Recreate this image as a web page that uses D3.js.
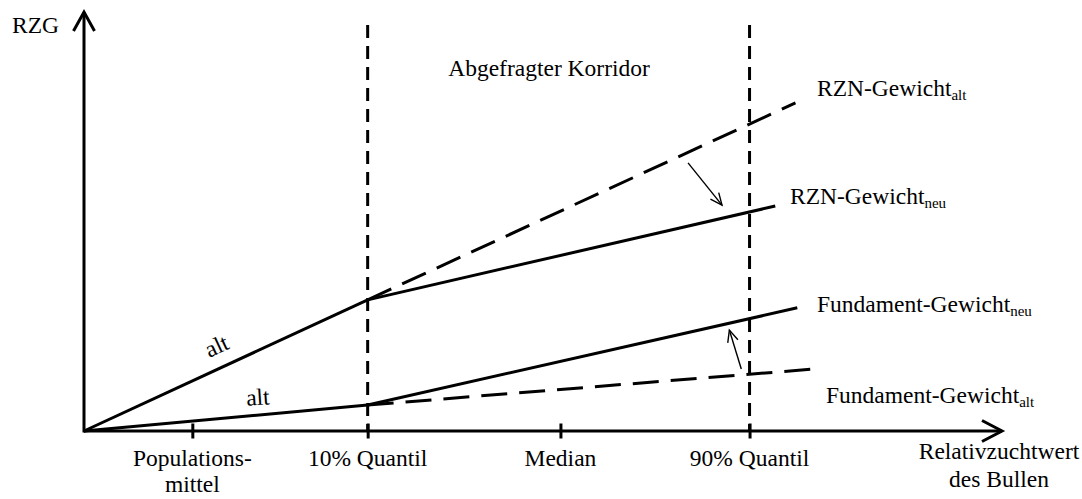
<!DOCTYPE html>
<html><head><meta charset="utf-8">
<script src="https://d3js.org/d3.v7.min.js"></script>
<style>body{margin:0;background:#fff}svg{display:block}</style>
</head><body><svg id="c" width="1082" height="499" font-family="'Liberation Serif', 'DejaVu Serif', 'Times New Roman', serif"></svg>
<script>
// ---- data (schematic units: x and y in 0..100) ----
const tickValues = [11.8, 30.9, 51.9, 72.5];
const tickLabels = [["Populations-", "mittel"], ["10% Quantil"], ["Median"], ["90% Quantil"]];
const corridor = [30.9, 72.5];
const corridorTop = 96.9;
const rznAltSolid = [[0, 0], [30.9, 31.3]];
const rznAltDashed = [[30.9, 31.3], [77.5, 78.3]];
const rznNeu = [[30.9, 31.3], [75.3, 53.7]];
const fundAltSolid = [[0, 0], [30.9, 6.2]];
const fundAltDashed = [[30.9, 6.2], [79.6, 14.8]];
const fundNeu = [[30.9, 6.2], [77.7, 29.4]];
const arrowRzn = [[65.8, 64.0], [69.5, 53.9]];
const arrowFund = [[71.6, 14.8], [70.3, 24.1]];
const seriesLabels = [
  {main: "RZN-Gewicht", sub: "alt", x: 817, y: 96},
  {main: "RZN-Gewicht", sub: "neu", x: 790, y: 204},
  {main: "Fundament-Gewicht", sub: "neu", x: 817, y: 312},
  {main: "Fundament-Gewicht", sub: "alt", x: 826, y: 403}
];

const FS = 23.5, SUB = 15;
const svg = d3.select("#c");
const x = d3.scaleLinear().domain([0, 100]).range([84, 1002]);
const y = d3.scaleLinear().domain([0, 100]).range([431, 12]);
const line = d3.line().x(d => x(d[0])).y(d => y(d[1]));

// corridor dashed verticals
svg.selectAll(".corr").data(corridor).join("line")
  .attr("x1", d => x(d)).attr("x2", d => x(d))
  .attr("y1", y(corridorTop)).attr("y2", y(0))
  .attr("stroke", "#000").attr("stroke-width", 3).attr("stroke-dasharray", "13,8");

// x axis with ticks
const xAxis = d3.axisBottom(x).tickValues(tickValues).tickSize(15).tickFormat("");
const gx = svg.append("g").attr("transform", `translate(0,${y(0) - 7.5})`).call(xAxis);
gx.select(".domain").remove();
gx.selectAll(".tick line").attr("stroke", "#000").attr("stroke-width", 3);

// axes
svg.append("line").attr("x1", x(0)).attr("x2", x(100)).attr("y1", y(0)).attr("y2", y(0))
  .attr("stroke", "#000").attr("stroke-width", 3);
svg.append("line").attr("x1", x(0)).attr("x2", x(0)).attr("y1", y(0) + 1.5).attr("y2", y(100))
  .attr("stroke", "#000").attr("stroke-width", 3);
// arrowheads
svg.append("path").attr("d", `M${x(100) - 20},${y(0) - 10.5}L${x(100)},${y(0)}L${x(100) - 20},${y(0) + 10.5}`)
  .attr("fill", "none").attr("stroke", "#000").attr("stroke-width", 3);
svg.append("path").attr("d", `M${x(0) - 10.5},${y(100) + 19}L${x(0)},${y(100)}L${x(0) + 10.5},${y(100) + 19}`)
  .attr("fill", "none").attr("stroke", "#000").attr("stroke-width", 3);

// lines
const solid = [rznAltSolid, rznNeu, fundAltSolid, fundNeu];
const dashed = [rznAltDashed, fundAltDashed];
svg.selectAll(".solid").data(solid).join("path").attr("d", line)
  .attr("fill", "none").attr("stroke", "#000").attr("stroke-width", 3);
svg.selectAll(".dashed").data(dashed).join("path").attr("d", line)
  .attr("fill", "none").attr("stroke", "#000").attr("stroke-width", 3).attr("stroke-dasharray", "26,12");

// thin arrows
function arrow(a) {
  const x1 = x(a[0][0]), y1 = y(a[0][1]), x2 = x(a[1][0]), y2 = y(a[1][1]);
  const ang = Math.atan2(y2 - y1, x2 - x1), L = 13, w = 0.42;
  svg.append("line").attr("x1", x1).attr("y1", y1).attr("x2", x2).attr("y2", y2)
    .attr("stroke", "#000").attr("stroke-width", 1.4);
  svg.append("path").attr("d",
    `M${x2 - L * Math.cos(ang - w)},${y2 - L * Math.sin(ang - w)}L${x2},${y2}L${x2 - L * Math.cos(ang + w)},${y2 - L * Math.sin(ang + w)}`)
    .attr("fill", "none").attr("stroke", "#000").attr("stroke-width", 1.4);
}
arrow(arrowRzn); arrow(arrowFund);

// tick labels
tickValues.forEach((v, i) => {
  const t = svg.append("text").attr("text-anchor", "middle").attr("font-size", FS);
  tickLabels[i].forEach((s, j) => t.append("tspan").attr("x", x(v)).attr("y", 466 + j * 26).text(s));
});

// axis titles
svg.append("text").attr("x", 12).attr("y", 33).attr("font-size", FS).text("RZG");
const xt = svg.append("text").attr("text-anchor", "middle").attr("font-size", FS);
xt.append("tspan").attr("x", 999).attr("y", 459).text("Relativzuchtwert");
xt.append("tspan").attr("x", 999).attr("y", 487).text("des Bullen");

svg.append("text").attr("x", 549).attr("y", 76).attr("text-anchor", "middle").attr("font-size", FS).text("Abgefragter Korridor");

// series labels
seriesLabels.forEach(l => {
  const t = svg.append("text").attr("x", l.x).attr("y", l.y).attr("font-size", FS);
  t.append("tspan").text(l.main);
  t.append("tspan").attr("font-size", SUB).attr("dy", 4).text(l.sub);
});

// "alt" labels along the lines
svg.append("text").attr("font-size", FS).attr("text-anchor", "middle")
  .attr("transform", `translate(${x(14.8)},${y(18.6)}) rotate(-24.7)`).text("alt");
svg.append("text").attr("font-size", FS).attr("text-anchor", "middle")
  .attr("transform", `translate(${x(19)},${y(6.2)}) rotate(-4)`).text("alt");
</script></body></html>
